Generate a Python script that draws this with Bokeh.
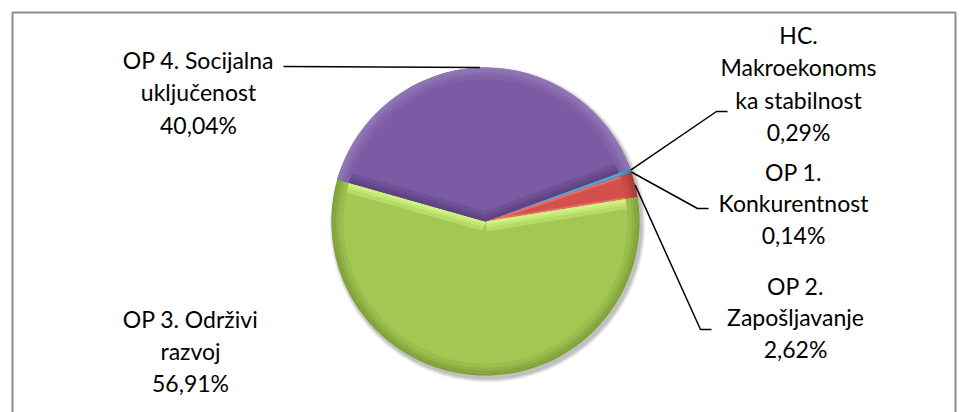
import numpy as np
from bokeh.plotting import figure
from bokeh.models import Range1d
from bokeh.core.properties import value
from bokeh.embed import file_html
from bokeh.resources import INLINE

# ---------------- data ----------------
categories = ["OP 1. Konkurentnost", "OP 2. Zapošljavanje", "OP 3. Održivi razvoj",
              "OP 4. Socijalna uključenost", "HC. Makroekonomska stabilnost"]
shares = [0.14, 2.62, 56.91, 40.04, 0.29]
label_lines = [["OP 1.", "Konkurentnost"],
               ["OP 2.", "Zapošljavanje"],
               ["OP 3. Održivi", "razvoj"],
               ["OP 4. Socijalna", "uključenost"],
               ["HC.", "Makroekonoms", "ka stabilnost"]]
percent_labels = [f"{v:.2f}".replace(".", ",") + "%" for v in shares]

# ---------------- style / layout ----------------
base_colors = ["#4F81BD", "#D4504C", "#A3C753", "#7B5BA3", "#4BACC6"]
rim_colors = ["#3C6A9F", "#A83A37", "#7F9F3A", "#9379B8", "#35899F"]
edge_colors = ["#7FA6D8", "#EE7470", "#CDF27F", "#5F4485", "#7FD0E4"]

W, H = 962, 412


def Y(py):  # page pixel y -> data y
    return H - py


CX, CY, R = 485, Y(221), 154
START_DEG = 19.0
FONT = value("Lato")
FS = "23px"

# label placement: center x, first line page-y, line step, leader path (page coords) or None
label_pos = [
    (793, 171, 31.5, [(697, 208), (708, 208)]),
    (795, 285, 31.5, [(700, 329), (711, 329)]),
    (190, 318, 32.0, None),
    (198, 59, 32.5, [(283, 66)]),
    (798, 34, 32.5, [(716, 111), (727, 111)]),
]

p = figure(width=W, height=H, output_backend="svg", toolbar_location=None,
           x_range=Range1d(0, W), y_range=Range1d(0, H),
           min_border=0, outline_line_color=None)
p.axis.visible = False
p.grid.visible = False
p.background_fill_color = "white"
p.border_fill_color = "white"

# chart frame
p.quad(left=[12], right=[955], top=[Y(12)], bottom=[Y(440)],
       fill_color=None, line_color="#8C8C8C", line_width=2)

# angles (clockwise from START)
total = float(sum(shares))
cum = np.concatenate([[0.0], np.cumsum(shares)]) / total * 2 * np.pi
a0 = np.deg2rad(START_DEG)
ends = a0 - cum[:-1]
starts = a0 - cum[1:]
mids = (starts + ends) / 2

# soft shadow
for k, al in enumerate([0.05, 0.06, 0.07, 0.09]):
    p.circle(x=[CX + 2], y=[CY - 3], radius=R + 4 - k, fill_color="#000000",
             fill_alpha=al, line_color=None)

# base slices
p.wedge(x=CX, y=CY, radius=R, start_angle=starts, end_angle=ends,
        fill_color=base_colors, line_color=None)


def mix(c1, c2, t):
    a = [int(c1[i:i + 2], 16) for i in (1, 3, 5)]
    b = [int(c2[i:i + 2], 16) for i in (1, 3, 5)]
    return "#%02x%02x%02x" % tuple(int(round(a[j] + (b[j] - a[j]) * t)) for j in range(3))


# radial-edge bevel bands
for i in range(len(shares)):
    if shares[i] < 1.0:
        continue
    bands = [(10, 0.45), (6, 0.75), (3, 1.0)] if shares[i] > 10 else [(2, 0.8)]
    for width, t in bands:
        col = mix(base_colors[i], edge_colors[i], t)
        for ang, side in [(starts[i], 1), (ends[i], -1)]:
            ux, uy = np.cos(ang), np.sin(ang)
            nx, ny = -uy * side, ux * side
            rr = np.sqrt(max(R * R - width * width, 0))
            xs = [CX, CX + R * ux, CX + rr * ux + width * nx, CX + width * nx]
            ys = [CY, CY + R * uy, CY + rr * uy + width * ny, CY + width * ny]
            p.patch(x=xs, y=ys, fill_color=col, line_color=None)

# rim bevel rings
steps = [(R - 12, R - 8, 0.25), (R - 8, R - 5, 0.5), (R - 5, R - 2, 0.8), (R - 2, R, 1.0)]
for r_in, r_out, t in steps:
    p.annular_wedge(x=CX, y=CY, inner_radius=r_in, outer_radius=r_out,
                    start_angle=starts, end_angle=ends,
                    fill_color=[mix(base_colors[i], rim_colors[i], t) for i in range(len(shares))],
                    line_color=None)

# leader lines
for i, (tx, ty, step, path) in enumerate(label_pos):
    if path is None:
        continue
    ex = CX + R * np.cos(mids[i])
    ey = CY + R * np.sin(mids[i])
    xs = [ex] + [q[0] for q in path]
    ys = [ey] + [Y(q[1]) for q in path]
    p.line(x=xs, y=ys, line_color="#000000", line_width=1.5)

# labels
for i, (tx, ty, step, path) in enumerate(label_pos):
    lines = label_lines[i] + [percent_labels[i]]
    p.text(x=[tx] * len(lines), y=[Y(ty + k * step) for k in range(len(lines))],
           text=lines, text_align="center", text_baseline="middle",
           text_font=FONT, text_font_size=FS, text_color="#000000")

open("out.html", "w").write(file_html(p, INLINE))
